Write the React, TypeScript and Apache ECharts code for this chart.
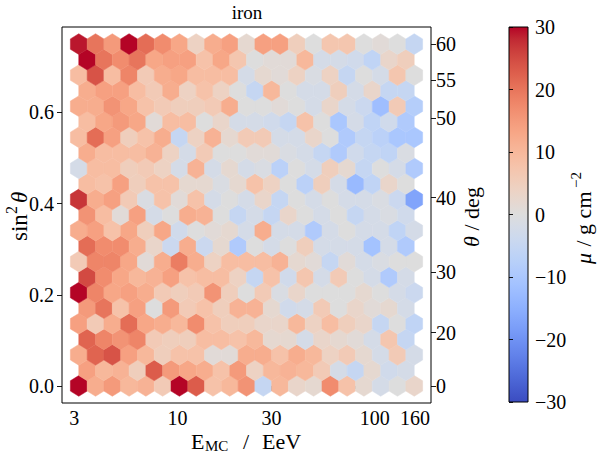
import React, { useEffect, useRef } from "react";
import * as echarts from "echarts";

// matplotlib "coolwarm" colormap, 33 evenly spaced samples (low -> high)
const COOLWARM = [
  "#3b4cc0", "#445acc", "#4d68d7", "#5775e1", "#6282ea", "#6c8ef1", "#779af7", "#82a5fb",
  "#8db0fe", "#98b9ff", "#a3c2ff", "#aec9fd", "#b8d0f9", "#c2d5f4", "#ccd9ee", "#d5dbe6",
  "#dddddd", "#e5d8d1", "#ecd3c5", "#f1ccb8", "#f5c4ac", "#f7bb9f", "#f7b193", "#f7a686",
  "#f49a7b", "#f18d6f", "#ec7f63", "#e57058", "#de604d", "#d55045", "#cb3e3c", "#c02833",
  "#b40426",
];

// hexbin lattice (x in log10(E / EeV), y in sin^2 theta)
const X_LOG_MIN = 0.5;
const X_LOG_MAX = 2.2;
const Y_MIN = 0;
const Y_MAX = 0.75;
const NX = 20;
const NY = 11;
const MU_MIN = -30;
const MU_MAX = 30;

// mean mu per hexagon, rows from bottom (sin^2 theta = 0) to top (0.75)
const ROW00 = [30, 12, 15, 10, 11, 6, 30, 23, 8, 10, 16, -5, 10, 3, 2, 17, 8, 2, -2, 0, 3];
const ROW01 = [14, 10, 11, 5, 23, 15, 13, 12, 8, 15, 4, 10, 11, 10, 6, -2, -5, 2, -3, -2];
const ROW02 = [12, 22, 24, 14, 10, 5, 8, 8, 1, 1, 12, 12, 8, 12, 10, 4, 6, 2, -2, 6, -2];
const ROW03 = [22, 18, 16, 18, 6, 5, 5, 9, 9, 8, 10, 2, 2, -2, 3, 2, 1, -2, 7, -5];
const ROW04 = [14, 6, 12, 21, 13, 12, 10, 17, 8, 5, 5, 3, 3, 10, 4, 9, 5, 3, -5, 0, -6];
const ROW05 = [15, 20, 8, 14, 0, 15, 6, 8, 5, 11, 11, 2, -3, -2, 6, 0, 3, 1, 2, -2];
const ROW06 = [30, 18, 13, 14, 12, 6, 5, 6, 16, 5, 0, 6, -1, 3, 0, 0, 0, 2, 0, -2, -4];
const ROW07 = [25, 17, 13, 10, 11, 14, 8, 9, 9, 4, -5, 8, -3, 7, -2, 6, 0, -2, -9, -2];
const ROW08 = [6, 18, 18, 13, 1, 12, 19, 12, 4, 9, 9, 9, 11, 2, 1, -5, 1, -2, -1, 0, 0];
const ROW09 = [21, 17, 17, 12, 3, -4, 12, -4, 2, -9, 0, -2, 0, 5, -2, -2, -2, -11, -2, -9];
const ROW10 = [12, 14, 8, 13, 5, 13, -3, 0, 1, 2, -2, 12, -2, -2, -9, -2, 0, -2, -2, -6, -2];
const ROW11 = [16, 9, 1, 14, -2, 0, 12, 11, 0, -5, -2, -5, 3, 0, -2, 0, -5, -2, -1, -3];
const ROW12 = [27, 12, 14, 6, -1, 8, 1, 8, -2, 0, -2, 3, -5, 0, -2, 0, -2, -2, -1, -4, -17];
const ROW13 = [9, 8, 14, 5, 8, 8, 2, 2, -1, 2, 8, 4, 0, -7, 5, -2, -13, -6, 3, 0];
const ROW14 = [-2, 9, 9, 5, 6, 4, -2, 11, -2, 2, -2, -1, -7, 0, -2, 5, 2, -5, 0, -2, -9];
const ROW15 = [12, 9, 9, 9, 11, 4, -2, 6, 0, 0, 1, 1, -1, -2, -5, -9, -3, -5, -6, -1];
const ROW16 = [9, 21, 14, 5, 8, 12, -5, 4, 11, 2, 6, 6, -2, -2, 3, 0, -9, -5, -7, -10, -10];
const ROW17 = [9, 13, 15, 13, 1, 9, 9, 0, 3, -2, -2, -3, -5, 8, 0, -10, -2, -6, -3, -9];
const ROW18 = [12, 12, 16, 13, 8, 6, 5, 5, 6, 12, 0, 0, 1, 0, -2, 3, -2, -4, -12, 6, -8];
const ROW19 = [12, 14, 14, 9, 6, 12, 4, 8, 4, 0, -5, 10, 0, -2, -2, 5, -2, 3, -5, -5];
const ROW20 = [9, 24, 9, 18, 6, 12, 13, 9, 9, 9, -2, 2, 1, 4, -1, 4, -5, 0, -2, 7, 0];
const ROW21 = [30, 20, 17, 20, 13, 14, 14, 8, 13, 7, 0, 1, 1, 10, -2, -2, -3, -6, 3, 5];
const ROW22 = [29, 20, 15, 30, 21, 17, 13, 4, 12, 14, 2, 14, 14, 5, 0, 7, 7, 0, 1, 0, -5];

const ROWS = [
  ROW00, ROW01, ROW02, ROW03, ROW04, ROW05, ROW06, ROW07, ROW08, ROW09, ROW10, ROW11,
  ROW12, ROW13, ROW14, ROW15, ROW16, ROW17, ROW18, ROW19, ROW20, ROW21, ROW22,
];

// tick labels
const X_MAJOR_TICKS = [3, 10, 30, 100, 160];
const X_MINOR_TICKS = [4, 5, 6, 7, 8, 9, 20, 40, 50, 60, 70, 80, 90];
const Y_TICKS = [0, 0.2, 0.4, 0.6];
const THETA_TICKS = [0, 20, 30, 40, 50, 55, 60];

const FONT = "'Liberation Serif', 'Times New Roman', serif";

const SX = (X_LOG_MAX - X_LOG_MIN) / NX;
const SY = (Y_MAX - Y_MIN) / NY;
const X_AX_MIN = X_LOG_MIN - 0.05 * (X_LOG_MAX - X_LOG_MIN);
const X_AX_MAX = X_LOG_MAX + 0.05 * (X_LOG_MAX - X_LOG_MIN);
const Y_AX_MIN = Y_MIN - 0.05 * (Y_MAX - Y_MIN);
const Y_AX_MAX = Y_MAX + 0.05 * (Y_MAX - Y_MIN);

function buildHexData() {
  const out: number[][] = [];
  ROWS.forEach((row, r) => {
    const shift = r % 2 === 1 ? 0.5 : 0;
    row.forEach((v, i) => {
      out.push([X_LOG_MIN + (i + shift) * SX, Y_MIN + (r * SY) / 2, v]);
    });
  });
  return out;
}

const txt = (text: string, x: number, y: number, font: string, align = "left") => ({
  type: "text",
  x,
  y,
  style: {
    text,
    font,
    fill: "#000",
    align,
    verticalAlign: "middle",
    textAlign: align,
    textVerticalAlign: "middle",
  },
});

export default function App() {
  const ref = useRef<HTMLDivElement>(null);

  useEffect(() => {
    if (!ref.current) return;
    const chart = echarts.init(ref.current, undefined, { renderer: "svg" });
    const hexData = buildHexData();
    const tickStyle = { color: "#000", width: 0.9 };
    const labelStyle = { color: "#000", fontFamily: FONT, fontSize: 20 };

    const gradStops = COOLWARM.map((_, k) => ({
      offset: k / (COOLWARM.length - 1),
      color: COOLWARM[COOLWARM.length - 1 - k],
    }));

    chart.setOption({
      animation: false,
      backgroundColor: "#fff",
      grid: [
        { left: 62, top: 27, width: 369, height: 376, show: true, borderColor: "#000", borderWidth: 1, backgroundColor: "transparent" },
        {
          left: 509, top: 27, width: 19, height: 375, show: true, borderColor: "#000", borderWidth: 1,
          backgroundColor: { type: "linear", x: 0, y: 0, x2: 0, y2: 1, colorStops: gradStops },
        },
      ],
      xAxis: [
        {
          type: "value", gridIndex: 0, min: X_AX_MIN, max: X_AX_MAX,
          axisLine: { show: false }, splitLine: { show: false },
          axisTick: { show: true, length: 5, lineStyle: tickStyle, customValues: X_MAJOR_TICKS.map(Math.log10) },
          axisLabel: {
            ...labelStyle, margin: 5, customValues: X_MAJOR_TICKS.map(Math.log10),
            formatter: (v: number) => String(Math.round(Math.pow(10, v))),
          },
        },
        {
          type: "value", gridIndex: 0, min: X_AX_MIN, max: X_AX_MAX, position: "bottom",
          axisLine: { show: false }, splitLine: { show: false },
          axisTick: { show: true, length: 3, lineStyle: { color: "#000", width: 0.7 }, customValues: X_MINOR_TICKS.map(Math.log10) },
          axisLabel: { show: false },
        },
        { type: "value", gridIndex: 1, min: 0, max: 1, show: false },
      ],
      yAxis: [
        {
          type: "value", gridIndex: 0, min: Y_AX_MIN, max: Y_AX_MAX, position: "left",
          axisLine: { show: false }, splitLine: { show: false },
          axisTick: { show: true, length: 5, lineStyle: tickStyle, customValues: Y_TICKS },
          axisLabel: { ...labelStyle, margin: 8, customValues: Y_TICKS, formatter: (v: number) => v.toFixed(1) },
        },
        {
          type: "value", gridIndex: 0, min: Y_AX_MIN, max: Y_AX_MAX, position: "right",
          axisLine: { show: false }, splitLine: { show: false },
          axisTick: { show: true, length: 5, lineStyle: tickStyle, customValues: THETA_TICKS.map((d) => Math.pow(Math.sin((d * Math.PI) / 180), 2)) },
          axisLabel: {
            ...labelStyle, margin: 5,
            customValues: THETA_TICKS.map((d) => Math.pow(Math.sin((d * Math.PI) / 180), 2)),
            formatter: (v: number) => String(Math.round((Math.asin(Math.sqrt(v)) * 180) / Math.PI)),
          },
        },
        {
          type: "value", gridIndex: 1, min: MU_MIN, max: MU_MAX, interval: 10, position: "right",
          axisLine: { show: false }, splitLine: { show: false },
          axisTick: { show: true, length: 4, lineStyle: tickStyle },
          axisLabel: {
            ...labelStyle, margin: 7,
            formatter: (v: number) => (v < 0 ? "\u2212" + Math.abs(v) : String(v)),
          },
        },
      ],
      visualMap: {
        type: "continuous", show: false, min: MU_MIN, max: MU_MAX, dimension: 2, seriesIndex: 0,
        inRange: { color: COOLWARM },
      },
      series: [
        {
          type: "custom", coordinateSystem: "cartesian2d", xAxisIndex: 0, yAxisIndex: 0,
          silent: true, clip: false, encode: { x: 0, y: 1 }, data: hexData,
          renderItem: (_params: any, api: any) => {
            const cx = api.value(0);
            const cy = api.value(1);
            const offs = [
              [0.5, -0.5], [0.5, 0.5], [0, 1], [-0.5, 0.5], [-0.5, -0.5], [0, -1],
            ];
            const pts = offs.map(([a, b]) => api.coord([cx + a * SX, cy + (b * SY) / 3]));
            const c = api.visual("color");
            return { type: "polygon", shape: { points: pts }, style: { fill: c, stroke: c, lineWidth: 0.5 } };
          },
        },
      ],
      graphic: [
        txt("iron", 247, 12, `19px ${FONT}`, "center"),
        txt("E", 191, 441, `22px ${FONT}`),
        txt("MC", 205, 446, `15px ${FONT}`),
        txt("/", 246, 441, `22px ${FONT}`, "center"),
        txt("EeV", 262, 441, `22px ${FONT}`),
        {
          type: "group", x: 19, y: 241, rotation: Math.PI / 2,
          children: [
            txt("sin", 0, 0, `23px ${FONT}`),
            txt("2", 27, -8, `16px ${FONT}`),
            txt("\u03b8", 38, 0, `italic 23px ${FONT}`),
          ],
        },
        {
          type: "group", x: 471, y: 247, rotation: Math.PI / 2,
          children: [
            txt("\u03b8", 0, 0, `italic 22px ${FONT}`),
            txt(" / deg", 11, 0, `22px ${FONT}`),
          ],
        },
        {
          type: "group", x: 583, y: 264, rotation: Math.PI / 2,
          children: [
            txt("\u03bc", 0, 0, `italic 22px ${FONT}`),
            txt(" / g cm", 12, 0, `22px ${FONT}`),
            txt("\u22122", 76, -7, `15px ${FONT}`),
          ],
        },
      ],
    });
    return () => chart.dispose();
  }, []);

  return (
    <div
      ref={ref}
      style={{ position: "fixed", left: 0, top: 0, width: 604, height: 475, background: "#fff" }}
    />
  );
}
